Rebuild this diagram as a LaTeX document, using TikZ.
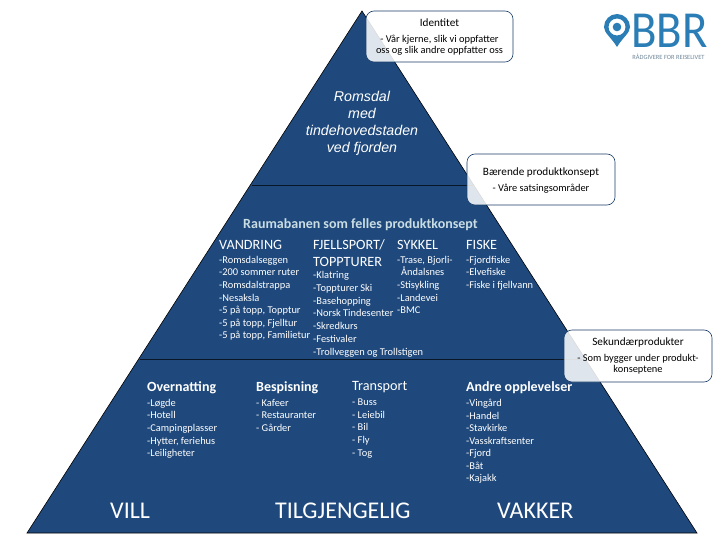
\documentclass[tikz,border=0pt]{standalone}
\usepackage{fontspec}
\setmainfont{Carlito}
\newfontfamily\arialfont{Liberation Sans}
\definecolor{pyr}{HTML}{1F497D}
\definecolor{hd}{HTML}{C9DDE3}
\definecolor{logob}{HTML}{2A7DB5}
\definecolor{logog}{HTML}{6F8799}
\newcommand{\fsz}[1]{\fontsize{#1}{#1}\selectfont}
\tikzset{
  x=1pt,y=-1pt,
  callout/.style={draw=pyr!85!black,line width=0.6pt,fill=white,fill opacity=0.86,rounded corners=8pt},
  calltitle/.style={text=black,align=center,font=\fsz{11.2},inner sep=0pt},
  calltxt/.style={text=black,align=center,font=\fontsize{10.4}{11}\selectfont,inner sep=0pt},
  listtxt/.style={text=white,align=left,anchor=north west,inner sep=0pt,font=\fontsize{10.4}{12.55}\selectfont},
  head/.style={text=white,anchor=west,inner sep=0pt,font=\fsz{14.2}},
  headb/.style={text=white,anchor=west,inner sep=0pt,font=\fsz{14}\bfseries},
  big/.style={text=white,anchor=west,inner sep=0pt,font=\fsz{24}},
  divider/.style={draw=black!70!pyr,line width=0.8pt}
}
\begin{document}
\begin{tikzpicture}
\useasboundingbox (0,0) rectangle (720,540);
\fill[white] (0,0) rectangle (720,540);
% pyramid
\draw[fill=pyr,draw=black,line width=0.6pt] (362,11) coordinate (apex) -- (697,533) coordinate (br) -- (27,533) coordinate (bl) -- cycle;
\coordinate (d1l) at (252,185); \coordinate (d1r) at (473,185);
\coordinate (d2l) at (140,359); \coordinate (d2r) at (585,359);
\draw[divider] (d1l) -- (d1r);
\draw[divider] (d2l) -- (d2r);
% top
\node[text=white,align=center,inner sep=0pt,font=\fontsize{14.2}{17}\selectfont\arialfont\itshape] (top) at (362,123.5)
  {Romsdal\\med\\tindehovedstaden\\ved fjorden};
% middle
\node[text=hd,anchor=west,inner sep=0pt,font=\fsz{14}\bfseries] (rauma) at (243,225) {Raumabanen som felles produktkonsept};
\node[head] (vandring) at (219,245) {VANDRING};
\node[head] (fjell) at (313,245) {FJELLSPORT/};
\node[head] (topp) at (313,262) {TOPPTURER};
\node[head] (sykkel) at (397,245) {SYKKEL};
\node[head] (fiske) at (466,245) {FISKE};
\node[listtxt] (l1) at (219,256) {-Romsdalseggen\\-200 sommer ruter\\-Romsdalstrappa\\-Nesaksla\\-5 på topp, Topptur\\-5 på topp, Fjelltur\\-5 på topp, Familietur};
\node[listtxt,font=\fontsize{10.4}{12.85}\selectfont] (l2) at (313,271) {-Klatring\\-Toppturer Ski\\-Basehopping\\-Norsk Tindesenter\\-Skredkurs\\-Festivaler\\-Trollveggen og Trollstigen};
\node[listtxt] (l3) at (397,256) {-Trase, Bjorli-\\\hspace*{4pt}Åndalsnes\\-Stisykling\\-Landevei\\-BMC};
\node[listtxt] (l4) at (466,256) {-Fjordfiske\\-Elvefiske\\-Fiske i fjellvann};
% lower
\node[headb] (overn) at (147,387.5) {Overnatting};
\node[headb] (besp) at (256,387.5) {Bespisning};
\node[head] (transp) at (352,387.5) {Transport};
\node[headb] (andre) at (466,387.5) {Andre opplevelser};
\node[listtxt] (b1) at (147,399) {-Løgde\\-Hotell\\-Campingplasser\\-Hytter, feriehus\\-Leiligheter};
\node[listtxt] (b2) at (256,399) {- Kafeer\\- Restauranter\\- Gårder};
\node[listtxt] (b3) at (352,399) {- Buss\\- Leiebil\\- Bil\\- Fly\\- Tog};
\node[listtxt] (b4) at (466,399) {-Vingård\\-Handel\\-Stavkirke\\-Vasskraftsenter\\-Fjord\\-Båt\\-Kajakk};
\node[big] (vill) at (110,511) {VILL};
\node[big] (tilg) at (275,511) {TILGJENGELIG};
\node[big] (vakker) at (497,511) {VAKKER};
% callouts
\draw[callout] (366,11) rectangle (513,62);
\node[calltitle] (c1t) at (439.5,23) {Identitet};
\node[calltxt] (c1) at (439.5,45) {- Vår kjerne, slik vi oppfatter\\oss og slik andre oppfatter oss};
\draw[callout] (467,154) rectangle (615,205);
\node[calltitle] (c2t) at (541,172.5) {Bærende produktkonsept};
\node[calltxt] (c2) at (541,188.5) {- Våre satsingsområder};
\draw[callout] (564,330) rectangle (712,382);
\node[calltitle] (c3t) at (638,342.5) {Sekundærprodukter};
\node[calltxt] (c3) at (638,364.5) {- Som bygger under produkt-\\konseptene};
% logo
\fill[logob,even odd rule] (617,47) .. controls (611,37) and (604,33) .. (604,27) arc[start angle=180,end angle=360,radius=13] .. controls (630,33) and (623,37) .. (617,47) -- cycle
  (617,27) circle[radius=8.5];
\fill[logob] (617,27) circle[radius=4.3];
\node[text=logob,inner sep=0pt,anchor=west,xscale=0.9,text height=33pt,text depth=0pt,font=\fsz{52}] (bbr) at (631,31.5) {BBR};
\node[text=logog,inner sep=0pt,font=\fsz{6.4}] (tag) at (668.5,56.5) {RÅDGIVERE FOR REISELIVET};
\end{tikzpicture}
\end{document}
